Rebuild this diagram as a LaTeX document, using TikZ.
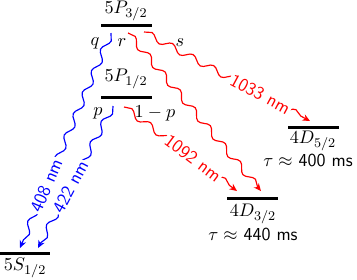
\documentclass[tikz,border=0pt]{standalone}
\usetikzlibrary{decorations.pathmorphing,arrows.meta}
\begin{document}
\begin{tikzpicture}[x=0.6pt,y=-0.6pt,
  font=\fontsize{11}{13}\selectfont,
  level/.style={line width=1.8pt},
  wave/.style={line width=0.7pt, decorate,
    decoration={snake, amplitude=2pt, segment length=14pt, pre length=0pt, post length=2pt},
    -{Stealth[length=4.5pt,width=4pt]}},
  wlab/.style={sloped, fill=white, inner sep=1pt, font=\fontsize{11}{13}\selectfont\sffamily},
  blueline/.style={blue},
  redline/.style={red}]
\useasboundingbox (0,0) rectangle (357,279);
% levels
\draw[level] (101,25) coordinate (P3a) -- (152,25) coordinate (P3b);
\draw[level] (101,97) coordinate (P1a) -- (152,97) coordinate (P1b);
\draw[level] (0,253) coordinate (Sa) -- (50,253) coordinate (Sb);
\draw[level] (288,127) coordinate (D5a) -- (339,127) coordinate (D5b);
\draw[level] (227,198) coordinate (D3a) -- (278,198) coordinate (D3b);
% level labels
\node (lP3) at (126,11) {$5P_{3/2}$};
\node (lP1) at (126,79) {$5P_{1/2}$};
\node (lS) at (25,268) {$5S_{1/2}$};
\node (lD5) at (313,141) {$4D_{5/2}$};
\node (tD5) at (308,160) {$\tau\approx$ \textsf{400 ms}};
\node (lD3) at (253,214) {$4D_{3/2}$};
\node (tD3) at (253,234) {$\tau\approx$ \textsf{440 ms}};
% branching labels
\node (q) at (95,43) {$q$};
\node (r) at (122,43) {$r$};
\node (s) at (180,43) {$s$};
\node (p) at (98,113) {$p$};
\node (omp) at (155,113) {$1-p$};
% transition endpoints
\coordinate (a1) at (111,33);  \coordinate (a2) at (20,248);
\coordinate (b1) at (113,106); \coordinate (b2) at (38,248);
\coordinate (c1) at (128,33);  \coordinate (c2) at (261,191);
\coordinate (d1) at (144,32);  \coordinate (d2) at (310,121);
\coordinate (e1) at (124,107); \coordinate (e2) at (237,191);
% transitions
\draw[wave,blueline] (a1) -- node[wlab,pos=0.71,text=blue] {408 nm} (a2);
\draw[wave,blueline] (b1) -- node[wlab,pos=0.57,text=blue] {422 nm} (b2);
\draw[wave,redline] (c1) -- (c2);
\draw[wave,redline] (d1) -- node[wlab,pos=0.70,text=red] {1033 nm} (d2);
\draw[wave,redline] (e1) -- node[wlab,pos=0.61,text=red] {1092 nm} (e2);
\end{tikzpicture}
\end{document}
